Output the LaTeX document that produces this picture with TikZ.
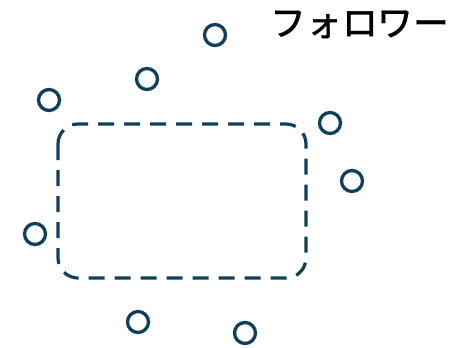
\documentclass[tikz,border=0pt]{standalone}
\usepackage{fontspec}
\newfontfamily\cjk{Noto Sans CJK JP Medium}
\definecolor{teal}{HTML}{0F3F5A}
\begin{document}
\begin{tikzpicture}[x=1bp,y=-1bp,
  dot/.style={circle,draw=teal,line width=3.3bp,minimum size=21bp,inner sep=0pt},
  grp/.style={draw=teal,line width=3.2bp,rounded corners=20bp,dash pattern=on 16bp off 10bp}]
\useasboundingbox (0,0) rectangle (451,347);
\draw[grp] (58,124) rectangle (306,278);
\node[dot] (f1) at (215,35) {};
\node[dot] (f2) at (147,79) {};
\node[dot] (f3) at (49,100) {};
\node[dot] (f4) at (330,123) {};
\node[dot] (f5) at (352,181) {};
\node[dot] (f6) at (35,234) {};
\node[dot] (f7) at (138,322) {};
\node[dot] (f8) at (245,333) {};
\node[font=\cjk\fontsize{36}{42}\selectfont,inner sep=0pt] (lbl) at (360,25) {フォロワー};
\end{tikzpicture}
\end{document}
